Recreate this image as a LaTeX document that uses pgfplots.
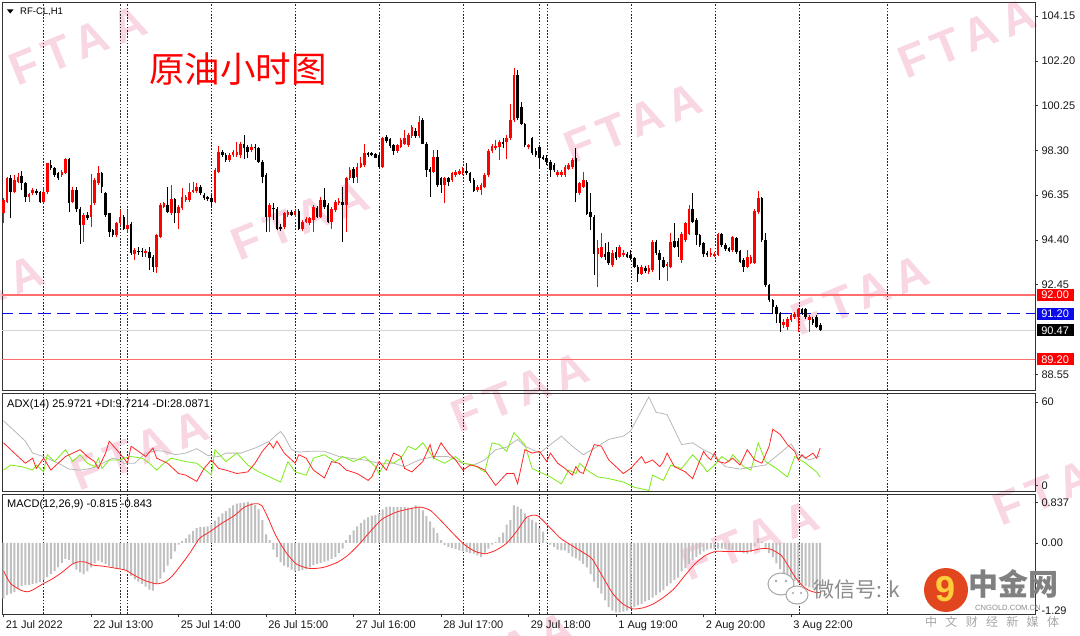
\documentclass[border=0pt]{standalone}
\usepackage{pgfplots}
\pgfplotsset{compat=1.18}
\usepackage{pgfplotstable}
\usepackage{fontspec}
\setmainfont{Liberation Sans}
\newfontfamily\cjk{Noto Sans CJK SC}
\newfontfamily\wmfont[LetterSpace=18]{Liberation Sans}

\definecolor{cred}{RGB}{255,0,0}
\definecolor{lvlred}{RGB}{255,110,110}
\definecolor{lvlblue}{RGB}{10,10,235}
\definecolor{bidgray}{RGB}{212,212,212}
\definecolor{wmpink}{RGB}{249,214,227}
\definecolor{adxgray}{RGB}{185,185,185}
\definecolor{digreen}{RGB}{125,235,20}
\definecolor{dired}{RGB}{255,40,40}
\definecolor{histgray}{RGB}{192,192,192}
\definecolor{sepcol}{RGB}{40,40,40}
\definecolor{logoorange}{RGB}{226,70,30}

\pgfplotstableread[row sep=\\]{
o h l c\\
95.56 96.21 95.12 96.14\\ 96.06 97.15 95.99 97.08\\ 97.08 97.23 95.34 96.50\\ 96.50 97.23 96.43 97.01\\
96.94 97.30 96.86 97.15\\ 97.18 97.41 96.57 96.86\\ 96.86 96.94 96.06 96.28\\ 96.28 96.46 96.06 96.40\\
96.43 96.65 96.35 96.57\\ 96.54 96.60 96.35 96.43\\ 96.50 96.54 96.02 96.06\\ 96.06 96.65 96.02 96.50\\
96.50 97.76 96.40 97.73\\ 97.66 97.88 97.44 97.52\\ 97.52 97.59 97.15 97.23\\ 97.30 97.37 97.01 97.08\\
97.23 97.44 97.15 97.37\\ 97.30 97.95 97.27 97.91\\ 97.91 97.95 95.63 95.99\\ 96.06 96.72 95.99 96.57\\
96.57 96.72 95.63 95.73\\ 95.73 95.82 94.22 95.05\\ 95.05 95.56 94.32 95.48\\ 95.48 95.63 95.27 95.37\\
95.41 97.27 94.98 95.92\\ 95.99 97.08 95.92 97.01\\ 96.86 97.62 96.79 97.30\\ 97.30 97.37 96.43 96.72\\
96.46 96.50 95.41 95.48\\ 95.56 95.59 94.54 94.76\\ 94.83 94.90 94.51 94.61\\ 94.61 95.19 94.54 95.12\\
95.12 95.70 95.05 95.41\\ 95.41 95.48 94.83 94.90\\ 94.86 95.70 94.76 95.05\\ 95.09 95.19 93.74 93.84\\
93.81 94.03 93.52 93.96\\ 93.92 94.10 93.74 93.89\\ 93.92 94.03 93.67 93.87\\ 93.84 93.99 93.67 93.92\\
93.89 94.10 93.09 93.60\\ 93.67 93.74 93.02 93.23\\ 93.23 94.68 92.97 94.61\\ 94.54 95.99 94.47 95.92\\
95.85 96.06 95.78 95.99\\ 95.92 96.72 95.56 95.63\\ 95.56 96.79 95.48 96.17\\ 96.17 96.21 95.12 95.56\\
95.56 95.92 94.90 95.82\\ 95.78 96.65 95.70 96.28\\ 96.14 96.35 96.06 96.28\\ 96.14 96.86 96.06 96.50\\
96.50 96.94 96.43 96.57\\ 96.54 96.89 96.46 96.72\\ 96.72 96.79 96.35 96.43\\ 96.35 96.43 96.14 96.21\\
96.25 96.31 96.11 96.17\\ 96.24 96.35 95.85 96.06\\ 96.06 97.52 95.99 97.44\\ 97.37 98.49 97.30 98.24\\
98.24 98.31 98.00 98.10\\ 98.10 98.17 97.81 97.88\\ 97.88 98.17 97.81 98.10\\ 98.10 98.31 98.02 98.24\\
98.10 98.68 98.02 98.21\\ 98.10 98.68 97.99 98.60\\ 98.58 98.97 97.91 98.39\\ 98.46 98.53 97.95 98.24\\
98.31 98.60 98.24 98.46\\ 98.46 98.60 97.88 98.39\\ 98.39 98.46 97.73 97.81\\ 97.81 97.88 96.86 97.15\\
97.23 97.30 94.76 95.41\\ 95.41 95.99 94.76 95.92\\ 95.80 95.99 95.27 95.73\\ 95.73 95.82 94.83 94.90\\
94.97 95.09 94.80 94.90\\ 94.97 95.63 94.90 95.56\\ 95.48 95.70 95.41 95.63\\ 95.63 95.70 95.44 95.48\\
95.48 95.73 95.41 95.67\\ 95.67 95.73 94.83 94.90\\ 94.90 95.27 94.80 95.19\\ 95.19 95.38 95.12 95.31\\
95.12 95.41 95.05 95.34\\ 95.27 95.92 94.76 95.82\\ 95.78 95.88 95.34 95.41\\ 95.41 96.25 95.34 96.14\\
96.14 96.65 95.73 95.82\\ 95.92 95.99 95.12 95.19\\ 95.19 95.82 94.90 95.73\\ 95.70 96.14 95.63 96.06\\
95.99 96.21 95.92 96.11\\ 96.06 96.72 94.32 95.92\\ 95.92 97.15 94.76 97.08\\ 97.08 97.59 97.01 97.44\\
97.47 97.59 96.86 97.12\\ 97.15 97.73 96.86 97.59\\ 97.59 98.02 97.52 97.73\\ 97.66 98.58 97.59 98.17\\
98.20 98.24 98.02 98.10\\ 98.17 98.23 98.05 98.10\\ 98.13 98.17 97.95 97.99\\ 98.10 98.17 97.52 97.59\\
97.59 98.89 97.55 98.82\\ 98.89 98.97 98.63 98.72\\ 98.78 98.82 98.39 98.49\\ 98.53 98.60 98.10 98.28\\
98.28 98.57 98.20 98.53\\ 98.46 98.82 98.39 98.75\\ 98.60 99.18 98.53 98.82\\ 98.53 99.04 98.46 98.97\\
98.92 99.40 98.85 99.33\\ 99.15 99.26 98.86 98.92\\ 98.92 99.79 98.86 99.55\\ 99.62 99.73 98.57 98.60\\
98.60 98.67 97.15 97.44\\ 97.51 97.59 96.28 97.37\\ 97.37 98.31 97.30 98.02\\ 98.02 98.31 96.72 96.79\\
97.08 97.15 96.43 96.79\\ 96.79 97.15 95.99 97.08\\ 97.08 97.15 96.75 96.93\\ 97.01 97.37 96.93 97.30\\
97.22 97.44 97.15 97.37\\ 97.27 97.47 97.22 97.40\\ 97.30 97.59 97.22 97.51\\ 97.41 97.73 97.22 97.30\\
97.30 97.37 96.89 96.98\\ 97.01 97.08 96.50 96.54\\ 96.57 96.79 96.50 96.72\\ 96.57 96.86 96.35 96.79\\
96.72 97.30 96.65 97.22\\ 97.22 98.34 97.15 98.28\\ 98.28 98.60 98.20 98.49\\ 98.39 98.75 98.31 98.49\\
98.46 98.75 97.88 98.67\\ 98.67 98.82 98.39 98.60\\ 98.67 98.97 97.91 98.86\\ 98.82 100.34 98.75 99.62\\
99.62 101.87 99.55 101.58\\ 101.58 101.82 99.62 99.69\\ 100.20 100.42 99.40 99.47\\ 99.44 99.50 98.43 98.53\\
98.43 98.60 98.34 98.53\\ 98.82 98.89 98.09 98.17\\ 98.28 98.39 98.02 98.09\\ 98.46 98.53 97.51 97.95\\
98.02 98.09 97.88 97.92\\ 97.95 98.09 97.66 97.80\\ 97.80 97.88 97.15 97.44\\ 97.66 97.73 97.37 97.44\\
97.22 97.44 97.15 97.34\\ 97.22 97.44 97.15 97.37\\ 97.22 97.66 97.15 97.59\\ 97.51 97.73 97.44 97.66\\
97.59 97.95 97.51 97.88\\ 97.95 98.39 96.06 96.43\\ 96.43 96.93 96.35 96.86\\ 96.72 97.37 96.65 97.01\\
96.93 97.01 95.48 95.55\\ 95.63 96.43 94.83 95.41\\ 95.41 95.48 92.87 93.81\\ 93.81 94.39 92.36 94.03\\
93.67 94.71 93.60 94.10\\ 93.81 94.25 93.55 93.64\\ 93.88 94.32 93.31 93.38\\ 93.31 93.95 93.23 93.84\\
93.86 94.10 93.52 93.60\\ 93.67 94.18 93.60 94.10\\ 93.74 93.95 93.67 93.84\\ 93.81 93.88 93.60 93.67\\
93.74 93.95 93.52 93.60\\ 93.60 93.67 93.16 93.23\\ 93.23 93.31 92.58 92.94\\ 92.94 93.31 92.87 93.23\\
93.20 93.26 92.97 93.06\\ 93.02 93.31 92.94 93.20\\ 93.09 94.39 93.02 94.32\\ 94.32 94.39 93.74 93.84\\
93.84 93.95 92.65 93.55\\ 93.55 93.67 93.16 93.23\\ 93.26 93.44 92.61 93.35\\ 93.23 94.71 93.16 94.32\\
94.36 95.12 94.03 94.10\\ 94.36 94.47 93.67 94.10\\ 93.52 94.76 93.41 94.65\\ 94.39 95.19 94.32 95.12\\
94.68 95.92 94.61 95.77\\ 95.74 96.43 95.12 95.19\\ 95.26 95.34 94.18 94.61\\ 94.61 94.68 94.10 94.18\\
94.25 94.32 93.67 93.78\\ 93.84 93.93 93.67 93.74\\ 93.74 94.03 93.67 93.84\\ 93.70 93.88 93.64 93.81\\
93.74 94.71 93.70 94.68\\ 94.65 94.71 94.10 94.18\\ 94.18 94.25 93.93 93.99\\ 94.03 94.10 93.89 93.93\\
93.96 94.57 93.89 94.51\\ 94.50 94.54 93.81 93.89\\ 93.91 93.95 93.38 93.45\\ 93.52 93.60 93.02 93.23\\
93.23 93.96 93.16 93.67\\ 93.41 93.74 93.35 93.67\\ 93.41 95.73 93.35 95.67\\ 95.63 96.54 95.55 96.21\\
96.21 96.28 94.32 94.39\\ 94.39 94.71 92.36 92.43\\ 92.43 92.50 91.71 91.78\\ 91.78 91.85 91.20 91.49\\
91.49 91.56 90.77 91.20\\ 91.20 91.27 90.40 90.77\\ 90.69 90.98 90.55 90.84\\ 90.62 91.06 90.50 90.98\\
90.91 91.20 90.84 91.13\\ 91.06 91.27 90.98 91.17\\ 91.06 91.42 90.40 91.38\\ 91.38 91.46 91.13 91.20\\
91.38 91.42 90.98 91.06\\ 90.91 91.13 90.40 91.06\\ 90.98 91.06 90.69 90.77\\ 91.06 91.13 90.55 90.62\\
90.69 90.77 90.44 90.47\\
}\candles

\pgfplotstableread[row sep=\\]{
m\\
-0.98\\ -0.92\\ -0.89\\ -0.86\\ -0.81\\ -0.76\\ -0.74\\ -0.74\\ -0.72\\ -0.71\\
-0.69\\ -0.65\\ -0.60\\ -0.55\\ -0.49\\ -0.43\\ -0.35\\ -0.28\\ -0.30\\ -0.36\\
-0.47\\ -0.52\\ -0.55\\ -0.50\\ -0.43\\ -0.36\\ -0.31\\ -0.34\\ -0.37\\ -0.41\\
-0.43\\ -0.45\\ -0.46\\ -0.48\\ -0.50\\ -0.58\\ -0.64\\ -0.68\\ -0.72\\ -0.77\\
-0.82\\ -0.84\\ -0.72\\ -0.63\\ -0.52\\ -0.40\\ -0.28\\ -0.15\\ -0.03\\ 0.03\\
0.08\\ 0.15\\ 0.21\\ 0.26\\ 0.28\\ 0.28\\ 0.29\\ 0.32\\ 0.39\\ 0.46\\
0.52\\ 0.56\\ 0.61\\ 0.66\\ 0.69\\ 0.70\\ 0.71\\ 0.72\\ 0.70\\ 0.67\\
0.59\\ 0.40\\ 0.15\\ 0.05\\ -0.12\\ -0.25\\ -0.34\\ -0.40\\ -0.43\\ -0.47\\
-0.49\\ -0.49\\ -0.48\\ -0.46\\ -0.43\\ -0.39\\ -0.37\\ -0.35\\ -0.33\\ -0.31\\
-0.28\\ -0.25\\ -0.18\\ -0.10\\ 0.05\\ 0.14\\ 0.22\\ 0.29\\ 0.35\\ 0.41\\
0.45\\ 0.48\\ 0.49\\ 0.51\\ 0.59\\ 0.63\\ 0.64\\ 0.63\\ 0.63\\ 0.63\\
0.63\\ 0.62\\ 0.62\\ 0.66\\ 0.63\\ 0.57\\ 0.47\\ 0.38\\ 0.27\\ 0.17\\
0.05\\ -0.04\\ -0.07\\ -0.09\\ -0.11\\ -0.13\\ -0.15\\ -0.16\\ -0.18\\ -0.19\\
-0.22\\ -0.25\\ -0.17\\ -0.10\\ -0.03\\ 0.02\\ 0.10\\ 0.18\\ 0.32\\ 0.40\\
0.66\\ 0.64\\ 0.60\\ 0.52\\ 0.45\\ 0.41\\ 0.36\\ 0.26\\ 0.20\\ 0.02\\
-0.03\\ -0.07\\ -0.12\\ -0.13\\ -0.13\\ -0.18\\ -0.24\\ -0.27\\ -0.31\\ -0.37\\
-0.43\\ -0.55\\ -0.68\\ -0.79\\ -0.89\\ -1.01\\ -1.13\\ -1.19\\ -1.22\\ -1.22\\
-1.21\\ -1.19\\ -1.16\\ -1.13\\ -1.10\\ -1.07\\ -1.03\\ -1.00\\ -0.96\\ -0.92\\
-0.87\\ -0.83\\ -0.76\\ -0.71\\ -0.65\\ -0.61\\ -0.50\\ -0.44\\ -0.37\\ -0.31\\
-0.25\\ -0.20\\ -0.15\\ -0.12\\ -0.10\\ -0.10\\ -0.10\\ -0.10\\ -0.11\\ -0.12\\
-0.13\\ -0.15\\ -0.16\\ -0.18\\ -0.19\\ -0.16\\ -0.05\\ 0.08\\ 0.02\\ -0.10\\
-0.18\\ -0.25\\ -0.36\\ -0.46\\ -0.53\\ -0.58\\ -0.63\\ -0.67\\ -0.71\\ -0.74\\
-0.76\\ -0.78\\ -0.80\\ -0.81\\ -0.82\\
}\macd

\pgfplotsset{
  mt/.style={
    scale only axis, width=1033pt, xmin=-0.41, xmax=282.9,
    axis line style={black!80, line width=0.8pt},
    tick style={black!80, line width=0.6pt},
    tick align=outside, major tick length=3pt,
    ytick pos=right, yticklabel pos=right, xtick pos=bottom,
    ticklabel style={font=\fontsize{11}{13}\selectfont, text=black!90},
    xtick=\empty,
    extra x ticks={10.9,31.95,33.95,57,80,103,126.1,147.1,149.1,172.2,195.2,218.3,242.3},
    extra x tick labels={},
    extra x tick style={grid=major, major tick length=0pt,
      major grid style={sepcol, line width=0.7pt, dash pattern=on 1.6pt off 1.6pt}},
    clip mode=individual, no markers,
  },
  wick/.style={forget plot, draw=none, mark=none, error bars/.cd, y dir=plus, y explicit,
    error mark=none, error bar style={draw=#1, line width=0.9pt, solid}},
  body/.style={forget plot, draw=none, mark=none, error bars/.cd, y dir=plus, y explicit,
    error mark=none, error bar style={draw=#1, line width=2.6pt, solid}},
}

\begin{document}
\begin{tikzpicture}
\path[use as bounding box] (0,0) rectangle (1080pt,-636pt);
\fill[white] (0,0) rectangle (1080pt,-636pt);

% watermarks
\foreach \wx/\wy in {78/45, 633/123, 967/38, 300/220, -25/295, 860/295, 520/392, 140/450, 750/540, 1062/485, 505/652}{
  \node[rotate=22, text=wmpink, font=\wmfont\bfseries\fontsize{46}{46}\selectfont] at (\wx pt,-\wy pt) {FTAA};
}

% ---------------- main price panel ----------------
\begin{axis}[mt, at={(2pt,-2pt)}, anchor=north west, height=388pt,
  ymin=87.87, ymax=104.76,
  ytick={104.15,102.20,100.25,98.30,96.35,94.40,92.45,88.55},
  yticklabels={104.15,102.20,100.25,98.30,96.35,94.40,92.45,88.55}]
\addplot[lvlred, line width=1.5pt, forget plot] coordinates {(-1,92.00) (284,92.00)};
\addplot[lvlred, line width=1.5pt, forget plot] coordinates {(-1,89.20) (284,89.20)};
\addplot[bidgray, line width=1.5pt, forget plot] coordinates {(-1,90.47) (284,90.47)};
\addplot[lvlblue, line width=1pt, dash pattern=on 13pt off 6pt, forget plot] coordinates {(-1,91.20) (284,91.20)};
% red (rising) candles
\addplot[wick=cred] table[x expr=\coordindex, y expr={\thisrow{c}>\thisrow{o} ? \thisrow{l} : nan}, y error expr={\thisrow{h}-\thisrow{l}}] {\candles};
\addplot[body=cred] table[x expr=\coordindex, y expr={\thisrow{c}>\thisrow{o} ? \thisrow{o} : nan}, y error expr={max(\thisrow{c}-\thisrow{o},0.04)}] {\candles};
% black (falling) candles
\addplot[wick=black] table[x expr=\coordindex, y expr={\thisrow{c}>\thisrow{o} ? nan : \thisrow{l}}, y error expr={\thisrow{h}-\thisrow{l}}] {\candles};
\addplot[body=black] table[x expr=\coordindex, y expr={\thisrow{c}>\thisrow{o} ? nan : \thisrow{c}}, y error expr={max(\thisrow{o}-\thisrow{c},0.04)}] {\candles};
% price boxes
\tikzset{pbox/.style={anchor=west, text=white, inner xsep=4.6pt, inner ysep=0pt, minimum height=12pt, font=\fontsize{11}{12}\selectfont, xshift=1.6pt}}
\node[pbox, fill=cred] at (axis cs:282.9,92.00) {92.00};
\node[pbox, fill=lvlblue] at (axis cs:282.9,91.20) {91.20};
\node[pbox, fill=black] at (axis cs:282.9,90.47) {90.47};
\node[pbox, fill=cred] at (axis cs:282.9,89.20) {89.20};
\end{axis}

% ---------------- ADX panel ----------------
\begin{axis}[mt, at={(2pt,-393pt)}, anchor=north west, height=98pt,
  ymin=0, ymax=60, ytick={54.5,3.5}, yticklabels={60,0}]
\addplot[adxgray, line width=0.8pt] coordinates {(0,43.0)(3,36.8)(6,30.5)(8,23.2)(11,21.1)(13,19.0)(15,17.0)(18,13.4)(21,12.8)(24,13.8)(26,15.5)(28,18.0)(30,20.1)(32,19.0)(33,17.0)(36,17.0)(39,23.2)(42,24.7)(44,24.3)(47,22.2)(50,23.2)(53,25.9)(56,21.8)(59,21.1)(61,23.2)(65,23.2)(69,26.3)(73,30.5)(75,34.7)(76,36.4)(77,33.6)(79,25.3)(81,23.8)(84,24.3)(88,24.3)(92,21.1)(95,20.1)(99,19.0)(103,17.0)(107,17.0)(110,14.9)(114,19.0)(118,21.1)(122,21.1)(126,17.0)(129,15.9)(132,19.0)(135,25.3)(138,26.8)(141,31.6)(143,27.4)(146,24.3)(147,23.2)(150,28.4)(153,33.6)(156,27.4)(159,22.2)(163,27.4)(166,31.6)(170,33.6)(172,36.8)(175,49.3)(177,57.6)(179,48.2)(182,46.8)(186,28.4)(189,29.5)(192,25.3)(194,23.2)(198,14.9)(202,13.4)(206,14.9)(209,15.9)(213,23.2)(216,28.8)(218,22.2)(221,19.0)(224,21.5)};
\addplot[digreen, line width=0.8pt] coordinates {(0,12.8)(2,15.9)(5,14.9)(8,12.8)(9,15.9)(11,11.7)(12,22.2)(14,18.0)(17,25.3)(19,18.0)(21,22.2)(23,17.0)(25,14.9)(26,20.1)(27,13.8)(29,19.0)(32,19.0)(33,20.1)(35,21.1)(38,20.1)(40,17.0)(42,12.8)(44,17.0)(46,20.1)(50,18.0)(53,17.0)(56,11.7)(57,9.7)(58,25.3)(61,18.0)(64,23.2)(67,15.9)(70,11.7)(73,8.6)(76,5.5)(78,18.0)(80,11.7)(83,9.7)(85,20.1)(88,22.2)(91,18.0)(93,21.1)(96,18.0)(99,21.1)(102,14.9)(103,10.7)(105,19.0)(107,17.0)(109,20.1)(111,27.4)(113,25.3)(115,29.5)(118,20.1)(121,17.0)(124,21.1)(126,17.0)(129,15.9)(132,11.7)(134,29.5)(136,28.4)(138,24.3)(140,35.7)(143,28.4)(145,13.8)(147,11.7)(150,8.6)(153,4.4)(155,12.8)(157,10.7)(158,17.0)(160,12.8)(163,8.6)(166,7.6)(170,5.5)(173,2.3)(177,0.3)(178,9.7)(181,6.5)(183,15.9)(186,13.8)(189,22.2)(192,14.9)(193,11.7)(195,15.9)(197,21.1)(199,18.0)(200,22.2)(203,14.9)(205,12.8)(207,29.5)(209,18.0)(212,13.8)(215,8.6)(217,21.1)(220,17.0)(223,11.7)(224,8.6)};
\addplot[dired, line width=0.8pt] coordinates {(0,29.5)(2,25.3)(4,21.1)(6,17.0)(8,20.1)(9,13.8)(11,20.1)(13,12.8)(15,17.0)(17,21.1)(19,23.2)(21,25.3)(23,21.1)(25,18.0)(26,13.8)(28,23.2)(29,30.5)(31,25.3)(33,20.1)(34,17.0)(35,27.4)(37,24.3)(39,21.1)(41,26.3)(42,20.1)(45,17.0)(48,10.7)(50,9.7)(53,5.9)(55,13.8)(57,19.0)(59,13.8)(61,12.8)(64,10.7)(67,11.7)(69,17.0)(71,24.3)(73,29.5)(74,26.3)(75,30.5)(77,23.2)(80,17.0)(81,22.2)(83,20.1)(85,12.8)(88,8.0)(90,18.0)(92,17.0)(94,12.8)(97,10.7)(100,6.5)(101,8.6)(103,18.0)(105,12.8)(107,23.2)(109,21.1)(110,13.8)(112,11.7)(115,18.0)(117,28.4)(118,20.1)(120,29.5)(122,23.2)(124,19.0)(126,12.8)(128,15.9)(130,14.9)(132,12.8)(135,3.4)(138,10.7)(140,10.7)(141,4.5)(143,25.3)(145,23.2)(147,24.3)(149,18.0)(150,23.2)(152,17.0)(154,13.8)(156,9.7)(157,14.9)(158,11.7)(159,10.7)(162,28.4)(164,27.4)(166,19.0)(170,10.7)(172,13.8)(175,21.1)(176,17.0)(178,19.0)(180,14.9)(181,18.0)(182,23.2)(184,14.9)(187,11.7)(189,7.6)(192,24.3)(193,21.1)(194,19.0)(195,23.2)(196,18.0)(198,17.0)(200,20.1)(202,15.9)(204,25.3)(206,19.0)(208,17.0)(210,27.4)(211,37.8)(213,34.7)(214,31.6)(215,28.4)(217,24.3)(218,19.0)(219,22.2)(220,20.1)(222,23.2)(223,20.1)(224,26.3)};
\end{axis}

% ---------------- MACD panel ----------------
\begin{axis}[mt, at={(2pt,-494pt)}, anchor=north west, height=120pt,
  ymin=-1.25, ymax=0.86, ytick={0.707,0,-1.189}, yticklabels={0.837,0.00,-1.29},
  xtick={0,24,48,72,96,120,144,168,192,216},
  xticklabels={21 Jul 2022,22 Jul 13:00,25 Jul 14:00,26 Jul 15:00,27 Jul 16:00,28 Jul 17:00,29 Jul 18:00,1 Aug 19:00,2 Aug 20:00,3 Aug 22:00},
  xticklabel style={anchor=north west, xshift=-1.2pt}]
\addplot[ybar, bar width=2pt, fill=histgray, draw=none] table[x expr=\coordindex, y=m] {\macd};
\addplot[dired, line width=0.8pt, smooth, tension=0.4] coordinates {(0,-0.49)(1.9,-0.71)(4.7,-0.83)(6.6,-0.86)(8.5,-0.81)(10.8,-0.72)(13.2,-0.64)(16,-0.52)(18.9,-0.37)(20.8,-0.33)(22.7,-0.34)(24.5,-0.39)(27.4,-0.41)(31.2,-0.45)(33.5,-0.48)(35.9,-0.57)(38.7,-0.66)(42,-0.72)(44.4,-0.68)(46.3,-0.58)(48.2,-0.43)(51,-0.19)(53.8,0.08)(56.7,0.20)(59.5,0.33)(63.3,0.48)(66.1,0.63)(68.9,0.69)(70.8,0.66)(72.7,0.42)(74.6,0.14)(77.4,-0.16)(80.3,-0.37)(84,-0.45)(87.8,-0.43)(91.6,-0.34)(94.4,-0.22)(97.3,-0.04)(101,0.23)(103.9,0.42)(107.7,0.54)(111.4,0.60)(114.3,0.63)(117.1,0.57)(120,0.39)(123.7,0.14)(126.6,-0.04)(129.4,-0.15)(132.2,-0.19)(135,-0.13)(137.9,-0.01)(140.7,0.20)(143.5,0.45)(146.4,0.48)(150,0.26)(152.8,0.08)(155.7,-0.04)(158.5,-0.15)(161.4,-0.28)(164.2,-0.58)(167.1,-0.89)(169.8,-1.07)(172.6,-1.16)(175.5,-1.14)(178.3,-1.07)(181.2,-0.95)(184,-0.80)(186.8,-0.58)(189.6,-0.37)(192.5,-0.22)(195.3,-0.15)(198.1,-0.15)(201,-0.15)(203.8,-0.15)(205.7,-0.13)(208,-0.10)(210.4,-0.11)(213.3,-0.22)(215.2,-0.40)(217.1,-0.60)(218.9,-0.74)(220.8,-0.83)(222.7,-0.87)(224.1,-0.87)};
\end{axis}

% ---------------- texts ----------------
\fill[black] (7pt,-9.5pt) -- (13.5pt,-9.5pt) -- (10.25pt,-13.5pt) -- cycle;
\node[anchor=west, inner sep=0pt, font=\fontsize{9.5}{10}\selectfont] at (20pt,-12pt) {RF-CL,H1};
\node[anchor=west, inner sep=0pt, text=cred, font=\cjk\fontsize{35.5}{36}\selectfont] at (149pt,-69pt) {原油小时图};
\node[anchor=west, inner sep=0pt, font=\fontsize{11}{12}\selectfont] at (7pt,-404.5pt) {ADX(14) 25.9721 +DI:9.7214 -DI:28.0871};
\node[anchor=west, inner sep=0pt, font=\fontsize{11}{12}\selectfont] at (7pt,-504.5pt) {MACD(12,26,9) -0.815 -0.843};

% ---------------- bottom-right overlay ----------------
\filldraw[fill=white, draw=black!35, line width=1pt] (781pt,-584pt) ellipse (13pt and 11pt);
\filldraw[fill=white, draw=black!35, line width=1pt] (797pt,-595pt) ellipse (11pt and 9pt);
\fill[black!35] (776pt,-581pt) circle (1.3pt) (786pt,-581pt) circle (1.3pt) (793pt,-593pt) circle (1.1pt) (801pt,-593pt) circle (1.1pt);
\node[anchor=west, inner sep=0pt, text=black!45, font=\cjk\fontsize{21}{21}\selectfont] at (813pt,-590pt) {微信号: k};
\fill[logoorange] (946pt,-590pt) circle (22pt);
\node[text={rgb,255:red,255;green,205;blue,60}, font=\bfseries\fontsize{36}{36}\selectfont] at (946pt,-589pt) {9};
\node[anchor=west, inner sep=0pt, text=black!50, font=\cjk\bfseries\fontsize{30}{30}\selectfont] at (968pt,-584pt) {中金网};
\node[anchor=west, inner sep=0pt, text=black!45, font=\fontsize{7.6}{8}\selectfont] at (975pt,-607.5pt) {CNGOLD.COM.CN};
\node[anchor=west, inner sep=0pt, text=black!35, font=\cjk\fontsize{12}{12}\selectfont] at (925pt,-622pt) {中\hspace{8.3pt}文\hspace{8.3pt}财\hspace{8.3pt}经\hspace{8.3pt}新\hspace{8.3pt}媒\hspace{8.3pt}体};
\end{tikzpicture}
\end{document}
